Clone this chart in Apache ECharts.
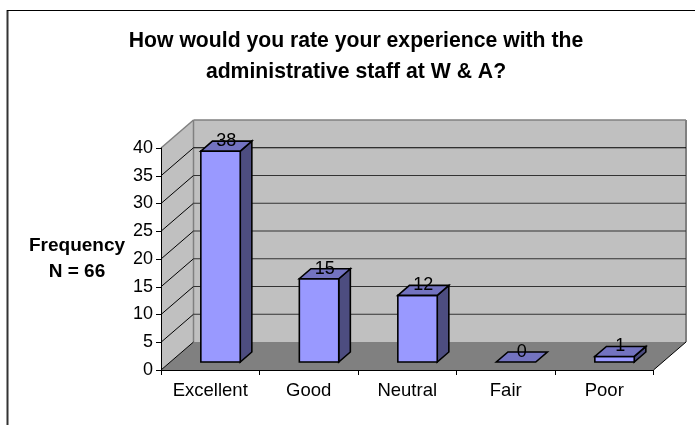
<!DOCTYPE html>
<html><head><meta charset="utf-8">
<style>html,body{margin:0;padding:0;background:#fff}#c{width:695px;height:425px}</style>
<script src="https://cdn.jsdelivr.net/npm/echarts@6/dist/echarts.min.js"></script>
</head><body><div id="c"></div>
<script>
const categories = ['Excellent','Good','Neutral','Fair','Poor'];
const frequency = [38,15,12,0,1];
const gridTicks = [5,10,15,20,25,30,35];
const titleText = 'How would you rate your experience with the\nadministrative staff at W & A?';
const yName = 'Frequency\nN = 66';

const FONT = '"Liberation Sans", Arial, sans-serif';
const DX = 32.5, DY = 28;            // floor depth in px
const BAR_F = 8/28, BAR_B = 18/28;   // bar's front and back depth as a share of floor
const BAR_W = 0.4;                   // bar width as a share of the category band
const NUDGE = 1;
const C = {wall:'#C0C0C0',floor:'#808080',edge:'#808080',front:'#9999FF',top:'#7373C0',side:'#4D4D80'};

const chart = echarts.init(document.getElementById('c'),null,{renderer:'canvas'});
const poly = (pts,fill,stroke,lw)=>({type:'polygon',shape:{points:pts},style:{fill,stroke:stroke||null,lineWidth:lw||0}});
const line = (a,b,stroke,lw)=>({type:'line',shape:{x1:a[0],y1:a[1],x2:b[0],y2:b[1]},style:{stroke,lineWidth:lw}});

chart.setOption({
  animation:false,
  backgroundColor:'#fff',
  title:{text:titleText,left:351,top:21,textAlign:'center',
    textStyle:{fontFamily:FONT,fontWeight:'bold',fontSize:21.2,color:'#000',lineHeight:31}},
  grid:{left:161,right:41.5,top:148,bottom:55},
  xAxis:{type:'category',data:categories,z:5,
    axisLine:{lineStyle:{color:'#000',width:1}},
    axisTick:{show:true,length:5,alignWithLabel:false,lineStyle:{color:'#000'}},
    axisLabel:{fontFamily:FONT,fontSize:18.5,color:'#000',margin:11,interval:0},
    splitLine:{show:false}},
  yAxis:{type:'value',min:0,max:40,interval:5,z:5,
    name:yName,nameLocation:'middle',nameRotate:0,nameGap:84,
    nameTextStyle:{fontFamily:FONT,fontWeight:'bold',fontSize:19,color:'#000',lineHeight:26,align:'center',verticalAlign:'middle'},
    axisLine:{show:true,lineStyle:{color:'#000',width:1}},
    axisTick:{show:true,length:5,lineStyle:{color:'#000'}},
    axisLabel:{fontFamily:FONT,fontSize:18,color:'#000',margin:8},
    splitLine:{show:false}},
  series:[
    {type:'custom',z:1,silent:true,data:[0],
      renderItem(p,api){
        const s=p.coordSys,x0=s.x,x1=s.x+s.width,yT=s.y,yB=s.y+s.height;
        return {type:'group',children:[
          poly([[x0+DX,yT-DY],[x1+DX,yT-DY],[x1+DX,yB-DY],[x0+DX,yB-DY]],C.wall),
          poly([[x0,yT],[x0+DX,yT-DY],[x0+DX,yB-DY],[x0,yB]],C.wall),
          poly([[x0,yB],[x1,yB],[x1+DX,yB-DY],[x0+DX,yB-DY]],C.floor),
          line([x0,yT],[x0+DX,yT-DY],C.edge,1.5),
          line([x0+DX,yT-DY],[x1+DX,yT-DY],C.edge,1.5),
          line([x0+DX,yT-DY],[x0+DX,yB-DY],C.edge,1.5),
          line([x1+DX,yT-DY],[x1+DX,yB-DY],C.edge,2),
          line([x0,yB],[x0+DX,yB-DY],'#000',1),
          line([x1,yB],[x1+DX,yB-DY],'#000',1)
        ]};
      }},
    {type:'custom',z:1,silent:true,data:gridTicks,
      encode:{y:0},
      renderItem(p,api){
        const s=p.coordSys,v=api.value(0),y=api.coord([0,v])[1],x0=s.x,x1=s.x+s.width;
        return {type:'group',children:[
          line([x0,y],[x0+DX,y-DY],'#000',1),
          line([x0+DX,y-DY],[x1+DX,y-DY],v===35?'#000':'#333',1)
        ]};
      }},
    {type:'custom',z:3,silent:true,
      data:frequency.map((v,i)=>[i,v]),
      encode:{x:0,y:1},
      renderItem(p,api){
        const i=api.value(0),v=api.value(1);
        const band=api.size([1,0])[0];
        const cx=api.coord([i,0])[0],y0=api.coord([i,0])[1],yV=api.coord([i,v])[1];
        const h=y0-yV,w=band*BAR_W;
        const ox=DX*BAR_F+NUDGE,oy=DY*BAR_F,bx=DX*(BAR_B-BAR_F),by=DY*(BAR_B-BAR_F);
        const l=cx+ox-w/2,r=cx+ox+w/2,b=y0-oy,t=b-h;
        const S='#000',LW=1.6;
        const kids=[];
        if(h>0){
          kids.push(poly([[r,t],[r+bx,t-by],[r+bx,b-by],[r,b]],C.side,S,LW));
          kids.push(poly([[l,t],[r,t],[r,b],[l,b]],C.front,S,LW));
        }
        kids.push(poly([[l,t],[r,t],[r+bx,t-by],[l+bx,t-by]],C.top,S,LW));
        kids.push({type:'text',style:{text:String(v),x:cx+ox+bx/2,y:t-by/2-5,align:'center',verticalAlign:'middle',
          font:'18px '+FONT,fill:'#000'}});
        return {type:'group',children:kids};
      }}
  ],
  graphic:[
    {type:'line',z:10,shape:{x1:7.5,y1:10,x2:7.5,y2:425},style:{stroke:'#333',lineWidth:2}},
    {type:'line',z:10,shape:{x1:7,y1:10.5,x2:695,y2:10.5},style:{stroke:'#000',lineWidth:1}}
  ]
});
</script></body></html>
